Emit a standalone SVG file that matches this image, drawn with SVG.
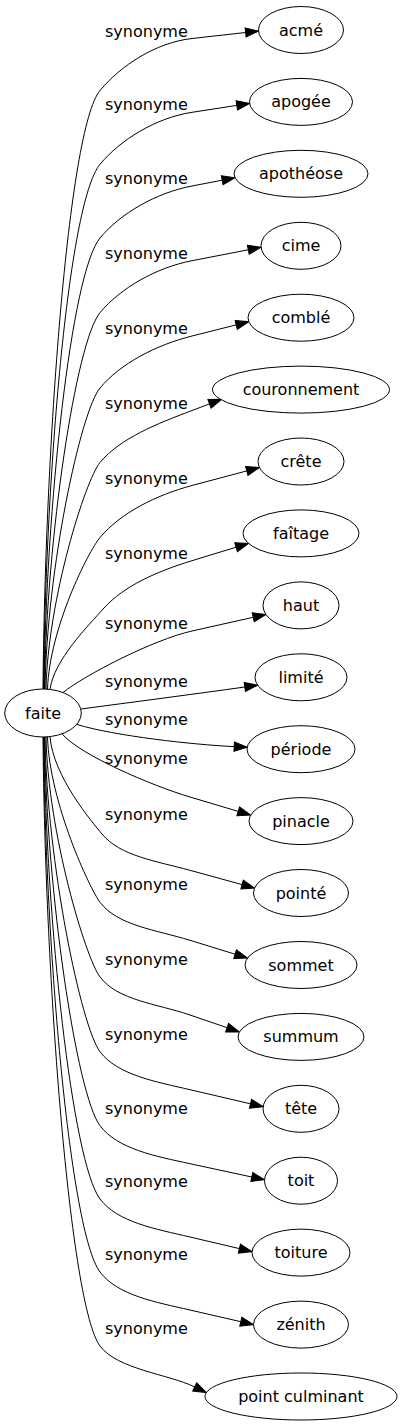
<svg xmlns="http://www.w3.org/2000/svg" width="402" height="1427" viewBox="0 0 402 1427">
<style>
.bg{fill:#fff}
.node ellipse{fill:#fff;stroke:#000;stroke-width:1}
.node text,.edge text{font-family:"DejaVu Sans",sans-serif;font-size:16px;fill:#000}
.node text{text-anchor:middle}
.edge path{fill:none;stroke:#000;stroke-width:1;marker-end:url(#ah)}
</style>
<defs>
<marker id="ah" markerUnits="userSpaceOnUse" markerWidth="14" markerHeight="10" refX="0" refY="4.6" orient="auto" overflow="visible">
<path d="M0,0 L13,4.6 L0,9.2 z" fill="#000" stroke="#000" stroke-width="1"/>
</marker>
</defs>
<rect class="bg" x="0" y="0" width="402" height="1427"/>
<g id="connectors">
<g class="edge"><path d="M43,689 C45,449.6 68,129 100,90.5 C120.3,66.1 155.2,42.6 192,38.5 L245.6,32.5"/><text x="105" y="36.5">synonyme</text></g>
<g class="edge"><path d="M43.5,689 C45.5,479.1 68,202.8 100,164.3 C120.3,139.9 155.4,118 192,112.3 L236.8,105.4"/><text x="105" y="110.3">synonyme</text></g>
<g class="edge"><path d="M44,689 C46,508.6 71.1,272.7 100,238 C120.3,213.6 155.7,192.9 192,186 L222.2,180.2"/><text x="105" y="184">synonyme</text></g>
<g class="edge"><path d="M44.5,689 C46.5,538.5 75.9,341.7 100,312.7 C120.3,288.3 155.7,267.7 192,260.7 L248.3,249.8"/><text x="105" y="258.7">synonyme</text></g>
<g class="edge"><path d="M45,689 C47,568.6 80.7,411.2 100,388 C120.3,363.6 156.1,345 192,336 L236.2,324.9"/><text x="105" y="334">synonyme</text></g>
<g class="edge"><path d="M46,689.1 C48,598.5 85.5,480 100,462.5 C120.3,438.1 157.4,423.6 192,410.5 L209.5,403.9"/><text x="105" y="408.5">synonyme</text></g>
<g class="edge"><path d="M47.5,689.2 C49.5,628.5 88,552 100,537.5 C120.3,513.1 156.3,495 192,485.5 L246.8,470.9"/><text x="105" y="483.5">synonyme</text></g>
<g class="edge"><path d="M50,689.4 C54,660 88,626 104,608 C124,586 156.6,571.5 192,560.7 L236.1,547.2"/><text x="105" y="558.7">synonyme</text></g>
<g class="edge"><path d="M63,692.5 C85,675 153,639.8 192,631 L253.2,617.3"/><text x="105" y="629">synonyme</text></g>
<g class="edge"><path d="M81,709 C130,702.5 195,694 244.8,687"/><text x="105" y="687">synonyme</text></g>
<g class="edge"><path d="M77,724.5 C115,736 193,744.7 234.2,746.6"/><text x="105" y="725.3">synonyme</text></g>
<g class="edge"><path d="M62,733.8 C80,755 151.6,785.6 190,797 L238.2,811.4"/><text x="105" y="763.7">synonyme</text></g>
<g class="edge"><path d="M50,736.6 C53,776 92,822 102,834 C120,856 156.3,861.1 190,870.3 L242.1,884.6"/><text x="105" y="820.3">synonyme</text></g>
<g class="edge"><path d="M47.5,736.8 C49.5,803 90,889 100,902.3 C117.6,925.7 156.6,930 190,940.3 L235.1,954.2"/><text x="105" y="890.3">synonyme</text></g>
<g class="edge"><path d="M46,736.9 C48,832.9 85.6,957.8 100,977 C117.6,1000.4 156.9,1003.7 190,1015 L227.1,1027.7"/><text x="105" y="965">synonyme</text></g>
<g class="edge"><path d="M45,737 C47,862.9 81.1,1026.5 100,1051.7 C117.6,1075.1 155.9,1081.7 190,1089.7 L250.5,1103.8"/><text x="105" y="1039.7">synonyme</text></g>
<g class="edge"><path d="M44.5,737 C46.5,892.5 76.7,1094.6 100,1125.7 C117.6,1149.1 155.8,1156.3 190,1163.7 L251.8,1177"/><text x="105" y="1113.7">synonyme</text></g>
<g class="edge"><path d="M44,737 C46,921.8 72.3,1162 100,1199 C117.6,1222.4 155.9,1229 190,1237 L239.4,1248.6"/><text x="105" y="1187">synonyme</text></g>
<g class="edge"><path d="M43.5,737 C45.5,951 70,1232 100,1272 C117.6,1295.4 155.9,1302.2 190,1310 L240.8,1321.7"/><text x="105" y="1260">synonyme</text></g>
<g class="edge"><path d="M43,737 C45,980.6 70,1306 100,1346 C117.6,1369.4 167.7,1374 194.7,1386.9"/><text x="105" y="1334">synonyme</text></g>
</g>
<g id="node-faite" class="node"><ellipse cx="43" cy="713" rx="38.3" ry="24"/><text x="43" y="718.5">faite</text></g>
<g id="node-acme" class="node"><ellipse cx="301" cy="30" rx="42.5" ry="23.5"/><text x="301" y="35.5">acmé</text></g>
<g id="node-apogee" class="node"><ellipse cx="301" cy="101.9" rx="51.5" ry="23.5"/><text x="301" y="107.4">apogée</text></g>
<g id="node-apotheose" class="node"><ellipse cx="301" cy="173.8" rx="67" ry="23.5"/><text x="301" y="179.3">apothéose</text></g>
<g id="node-cime" class="node"><ellipse cx="301" cy="245.8" rx="40" ry="23.5"/><text x="301" y="251.3">cime</text></g>
<g id="node-comble" class="node"><ellipse cx="301" cy="317.7" rx="53" ry="23.5"/><text x="301" y="323.2">comblé</text></g>
<g id="node-couronnement" class="node"><ellipse cx="301" cy="389.6" rx="88.5" ry="23.5"/><text x="301" y="395.1">couronnement</text></g>
<g id="node-crete" class="node"><ellipse cx="301" cy="461.5" rx="43" ry="23.5"/><text x="301" y="467">crête</text></g>
<g id="node-faitage" class="node"><ellipse cx="301" cy="533.4" rx="58" ry="23.5"/><text x="301" y="538.9">faîtage</text></g>
<g id="node-haut" class="node"><ellipse cx="301" cy="605.4" rx="38" ry="23.5"/><text x="301" y="610.9">haut</text></g>
<g id="node-limite" class="node"><ellipse cx="301" cy="677.3" rx="46" ry="23.5"/><text x="301" y="682.8">limité</text></g>
<g id="node-periode" class="node"><ellipse cx="301" cy="749.2" rx="54" ry="23.5"/><text x="301" y="754.7">période</text></g>
<g id="node-pinacle" class="node"><ellipse cx="301" cy="821.1" rx="52" ry="23.5"/><text x="301" y="826.6">pinacle</text></g>
<g id="node-pointe" class="node"><ellipse cx="301" cy="893" rx="47.5" ry="23.5"/><text x="301" y="898.5">pointé</text></g>
<g id="node-sommet" class="node"><ellipse cx="301" cy="965" rx="56" ry="23.5"/><text x="301" y="970.5">sommet</text></g>
<g id="node-summum" class="node"><ellipse cx="301" cy="1036.9" rx="63" ry="23.5"/><text x="301" y="1042.4">summum</text></g>
<g id="node-tete" class="node"><ellipse cx="301" cy="1108.8" rx="38" ry="23.5"/><text x="301" y="1114.3">tête</text></g>
<g id="node-toit" class="node"><ellipse cx="301" cy="1180.7" rx="36.5" ry="23.5"/><text x="301" y="1186.2">toit</text></g>
<g id="node-toiture" class="node"><ellipse cx="301" cy="1252.6" rx="49" ry="23.5"/><text x="301" y="1258.1">toiture</text></g>
<g id="node-zenith" class="node"><ellipse cx="301" cy="1324.6" rx="47.5" ry="23.5"/><text x="301" y="1330.1">zénith</text></g>
<g id="node-point-culminant" class="node"><ellipse cx="301" cy="1396.5" rx="96" ry="23.5"/><text x="301" y="1402">point culminant</text></g>
</svg>
